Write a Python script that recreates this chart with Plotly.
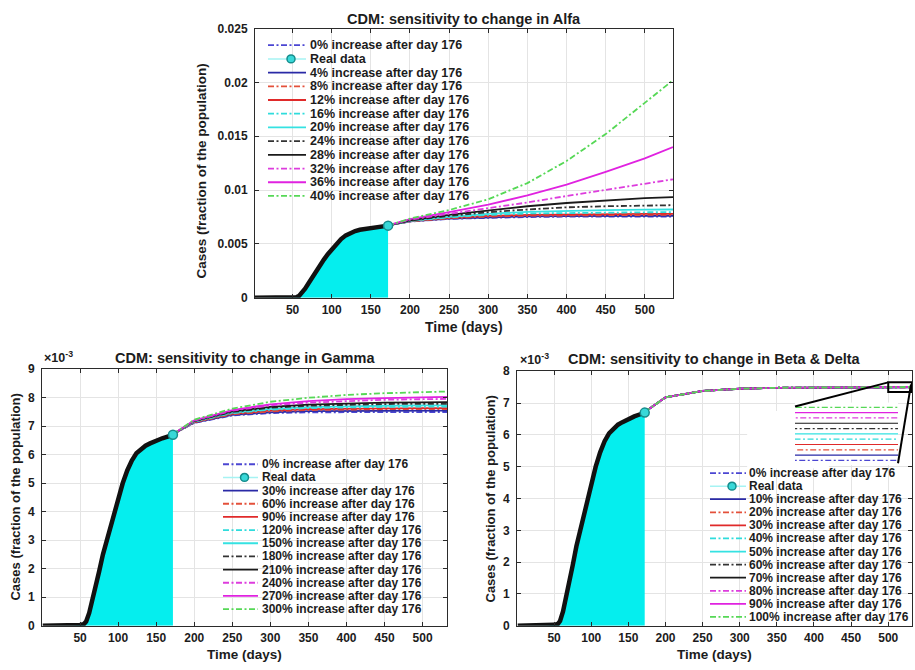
import plotly.graph_objects as go

W, H = 915, 670
FONT = "Liberation Sans, Arial, sans-serif"
INK = "#1c1c1c"

# ---------------------------------------------------------------- data
# Observed cumulative cases, fraction of the population (x 1e-3)
REAL_DAYS = [1, 10, 20, 30, 40, 50, 55, 58, 62, 66, 70, 75, 80, 85, 90, 95,
             100, 106, 112, 118, 124, 130, 136, 142, 150, 158, 165, 172]
REAL_CASES = [0, 0, 0, 0, 0.01, 0.03, 0.06, 0.15, 0.45, 0.85, 1.3, 1.9, 2.5,
              3.0, 3.55, 4.05, 4.5, 5.0, 5.45, 5.8, 6.05, 6.2, 6.32, 6.4,
              6.5, 6.58, 6.64, 6.7]

# Alfa scenarios (x 1e-3)
ALFA_PCT = [0, 4, 8, 12, 16, 20, 24, 28, 32, 36, 40]
ALFA_DAYS = [172, 200, 250, 300, 350, 400, 450, 500, 536]
ALFA_CASES = [
    [6.72, 7.08, 7.33, 7.45, 7.50, 7.53, 7.54, 7.55, 7.55],
    [6.72, 7.09, 7.35, 7.49, 7.56, 7.59, 7.61, 7.62, 7.62],
    [6.72, 7.10, 7.38, 7.54, 7.62, 7.66, 7.68, 7.69, 7.70],
    [6.72, 7.11, 7.42, 7.60, 7.70, 7.75, 7.78, 7.79, 7.80],
    [6.72, 7.13, 7.47, 7.70, 7.83, 7.89, 7.92, 7.94, 7.95],
    [6.72, 7.15, 7.52, 7.80, 7.98, 8.08, 8.14, 8.18, 8.20],
    [6.72, 7.17, 7.60, 7.95, 8.20, 8.40, 8.50, 8.57, 8.60],
    [6.72, 7.20, 7.70, 8.10, 8.50, 8.80, 9.05, 9.25, 9.35],
    [6.72, 7.25, 7.80, 8.30, 8.85, 9.45, 10.0, 10.6, 11.0],
    [6.72, 7.30, 7.95, 8.65, 9.50, 10.5, 11.7, 12.95, 14.0],
    [6.72, 7.35, 8.15, 9.15, 10.65, 12.7, 15.2, 18.1, 20.2],
]

# Gamma scenarios (x 1e-3)
GAMMA_PCT = [0, 30, 60, 90, 120, 150, 180, 210, 240, 270, 300]
GAMMA_DAYS = [172, 200, 250, 300, 350, 400, 450, 500, 532]
GAMMA_CASES = [
    [6.72, 7.12, 7.38, 7.46, 7.49, 7.50, 7.50, 7.50, 7.50],
    [6.72, 7.13, 7.40, 7.49, 7.53, 7.54, 7.55, 7.55, 7.55],
    [6.72, 7.14, 7.42, 7.52, 7.57, 7.59, 7.60, 7.60, 7.60],
    [6.72, 7.15, 7.44, 7.55, 7.60, 7.62, 7.63, 7.64, 7.64],
    [6.72, 7.16, 7.46, 7.58, 7.64, 7.67, 7.68, 7.69, 7.69],
    [6.72, 7.17, 7.48, 7.61, 7.67, 7.70, 7.72, 7.73, 7.73],
    [6.72, 7.18, 7.50, 7.65, 7.72, 7.76, 7.78, 7.79, 7.79],
    [6.72, 7.19, 7.52, 7.68, 7.76, 7.80, 7.83, 7.84, 7.85],
    [6.72, 7.20, 7.55, 7.73, 7.83, 7.89, 7.93, 7.95, 7.96],
    [6.72, 7.21, 7.57, 7.77, 7.88, 7.95, 7.99, 8.02, 8.03],
    [6.72, 7.23, 7.62, 7.86, 8.00, 8.10, 8.16, 8.20, 8.22],
]

# Beta & Delta scenarios (x 1e-3)
BD_PCT = [0, 10, 20, 30, 40, 50, 60, 70, 80, 90, 100]
BD_DAYS = [172, 200, 250, 300, 350, 400, 450, 500, 532]
BD_CASES = [
    [6.72, 7.18, 7.38, 7.45, 7.48, 7.49, 7.495, 7.495, 7.495],
    [6.72, 7.18, 7.38, 7.45, 7.48, 7.49, 7.496, 7.496, 7.496],
    [6.72, 7.18, 7.38, 7.45, 7.48, 7.49, 7.497, 7.497, 7.497],
    [6.72, 7.18, 7.38, 7.45, 7.48, 7.49, 7.498, 7.498, 7.498],
    [6.72, 7.18, 7.38, 7.45, 7.48, 7.49, 7.499, 7.499, 7.499],
    [6.72, 7.18, 7.38, 7.45, 7.48, 7.49, 7.500, 7.500, 7.500],
    [6.72, 7.18, 7.38, 7.45, 7.48, 7.49, 7.501, 7.501, 7.501],
    [6.72, 7.18, 7.38, 7.45, 7.48, 7.49, 7.502, 7.502, 7.502],
    [6.72, 7.18, 7.38, 7.45, 7.48, 7.49, 7.503, 7.503, 7.503],
    [6.72, 7.18, 7.38, 7.45, 7.48, 7.49, 7.504, 7.504, 7.504],
    [6.72, 7.18, 7.38, 7.45, 7.48, 7.49, 7.505, 7.505, 7.505],
]

X_TICKS = [50, 100, 150, 200, 250, 300, 350, 400, 450, 500]

# line style per scenario (MATLAB-like colour pairs, dash-dot / solid)
BLUE_DD, BLUE = "#4b46d2", "#2a2aa6"
RED_DD, RED = "#e4503a", "#e02a2a"
CYAN_DD, CYAN = "#2fdcdc", "#35e2e2"
BLACK_DD, BLACK = "#333333", "#1a1a1a"
MAG_DD, MAG = "#dd3cdd", "#e022e0"
GREEN_DD = "#56d856"
SERIES_COLORS = [BLUE_DD, BLUE, RED_DD, RED, CYAN_DD, CYAN,
                 BLACK_DD, BLACK, MAG_DD, MAG, GREEN_DD]
DASHDOT = "6px,2.5px,2px,2.5px"
SERIES_DASH = [DASHDOT, "solid"] * 5 + [DASHDOT]

REAL_FILL = "#05eeee"
REAL_LINE = "#a6f3f3"
REAL_MARK = "#38d8d8"
REAL_EDGE = "#168c8c"


def px(x):
    return x / W


def py(y):
    return 1 - y / H


# subplot boxes in pixels: (left, right, top, bottom)
TOP_BOX = (255, 673, 22, 297)
BL_BOX = (42, 447, 370, 632)
BR_BOX = (517, 912, 372, 632)
INSET_BOX = (795, 898, 404, 468)

TOP_XR = [2, 536]
BOT_XR = [0, 532]
INSET_XR = [500, 532]
INSET_YR = [7.4941, 7.5059]

fig = go.Figure()


def add_panel(xa, ya, days, cases, scale):
    fig.add_trace(go.Scatter(
        x=REAL_DAYS, y=[v * scale for v in REAL_CASES], mode="lines",
        fill="tozeroy", fillcolor=REAL_FILL, line=dict(width=0, color=REAL_FILL),
        xaxis=xa, yaxis=ya, showlegend=False, hoverinfo="skip"))
    fig.add_trace(go.Scatter(
        x=REAL_DAYS, y=[v * scale for v in REAL_CASES], mode="lines",
        line=dict(width=4.5, color="#111111"),
        xaxis=xa, yaxis=ya, showlegend=False))
    for vals, col, dash in zip(cases, SERIES_COLORS, SERIES_DASH):
        fig.add_trace(go.Scatter(
            x=days, y=[v * scale for v in vals], mode="lines",
            line=dict(width=1.8, color=col, dash=dash),
            xaxis=xa, yaxis=ya, showlegend=False))
    fig.add_trace(go.Scatter(
        x=REAL_DAYS[-1:], y=[v * scale for v in REAL_CASES[-1:]], mode="markers",
        marker=dict(size=9, color=REAL_MARK, line=dict(width=1.5, color=REAL_EDGE)),
        xaxis=xa, yaxis=ya, showlegend=False))


add_panel("x", "y", ALFA_DAYS, ALFA_CASES, 1e-3)
add_panel("x2", "y2", GAMMA_DAYS, GAMMA_CASES, 1)
add_panel("x3", "y3", BD_DAYS, BD_CASES, 1)

# magnified view of the Beta & Delta plateau
for vals, col, dash in zip(BD_CASES, SERIES_COLORS, SERIES_DASH):
    fig.add_trace(go.Scatter(
        x=BD_DAYS, y=vals, mode="lines",
        line=dict(width=1.2, color=col, dash=dash),
        xaxis="x4", yaxis="y4", showlegend=False))

tickfont = dict(family=FONT, size=12, color=INK, weight="bold")
common = dict(showline=True, linecolor="#2b2b2b", linewidth=1, mirror="ticks",
              ticks="inside", ticklen=4, tickcolor="#2b2b2b", showgrid=True,
              gridcolor="#e4e4e4", gridwidth=1, zeroline=False,
              tickfont=tickfont, fixedrange=True)
xcommon = dict(common, ticklabelstandoff=1)
ycommon = dict(common, ticklabelstandoff=4)


def dom_x(b):
    return [px(b[0]), px(b[1])]


def dom_y(b):
    return [py(b[3]), py(b[2])]


fig.update_layout(
    width=W, height=H, margin=dict(l=0, r=0, t=0, b=0),
    paper_bgcolor="white", plot_bgcolor="white", showlegend=False,
    xaxis=dict(domain=dom_x(TOP_BOX), range=TOP_XR, tickvals=X_TICKS, anchor="y", **xcommon),
    yaxis=dict(domain=dom_y(TOP_BOX), range=[0, 0.025], dtick=0.005, tick0=0, anchor="x", **ycommon),
    xaxis2=dict(domain=dom_x(BL_BOX), range=BOT_XR, tickvals=X_TICKS, anchor="y2", **xcommon),
    yaxis2=dict(domain=dom_y(BL_BOX), range=[0, 9], dtick=1, tick0=0, anchor="x2", **ycommon),
    xaxis3=dict(domain=dom_x(BR_BOX), range=BOT_XR, tickvals=X_TICKS, anchor="y3", **xcommon),
    yaxis3=dict(domain=dom_y(BR_BOX), range=[0, 8], dtick=1, tick0=0, anchor="x3", **ycommon),
    xaxis4=dict(domain=dom_x(INSET_BOX), range=INSET_XR, anchor="y4", visible=False, fixedrange=True),
    yaxis4=dict(domain=dom_y(INSET_BOX), range=INSET_YR, anchor="x4", visible=False, fixedrange=True),
)

shapes = []
ann = []


def text(x, y, s, size=11.5, angle=0, xanchor="center", yanchor="middle"):
    ann.append(dict(x=px(x), y=py(y), xref="paper", yref="paper", text=s,
                    showarrow=False, textangle=angle, xanchor=xanchor, yanchor=yanchor,
                    borderpad=0,
                    font=dict(family=FONT, size=size, color=INK, weight="bold")))


# titles and axis labels
text(464, 12, "CDM: sensitivity to change in Alfa", 14.5)
text(464, 327, "Time (days)", 14)
text(201, 168, "Cases (fraction of the population)", 13.5, -90)

text(244.5, 359, "CDM: sensitivity to change in Gamma", 14.5)
text(244.5, 661, "Time (days)", 13.5)
text(16, 501, "Cases (fraction of the population)", 13, -90)
text(43, 357, "×10<sup>-3</sup>", 12.5, xanchor="left")

text(714.5, 360, "CDM: sensitivity to change in Beta & Delta", 14.5)
text(714.5, 661, "Time (days)", 13.5)
text(491, 502, "Cases (fraction of the population)", 13, -90)
text(519, 360, "×10<sup>-3</sup>", 12.5, xanchor="left")


def legend(pcts, x0, x1, xt, y0, dy, size):
    labels = [f"{pcts[0]}% increase after day 176", "Real data"] + \
             [f"{p}% increase after day 176" for p in pcts[1:]]
    styles = [(SERIES_COLORS[0], SERIES_DASH[0]), None] + \
             list(zip(SERIES_COLORS[1:], SERIES_DASH[1:]))
    for i, (lab, st) in enumerate(zip(labels, styles)):
        y = y0 + i * dy
        if st is None:
            shapes.append(dict(type="line", xref="paper", yref="paper",
                               x0=px(x0), x1=px(x1), y0=py(y), y1=py(y),
                               line=dict(color=REAL_LINE, width=1.5)))
            cx = (x0 + x1) / 2 + 4
            shapes.append(dict(type="circle", xref="paper", yref="paper",
                               x0=px(cx - 4), x1=px(cx + 4), y0=py(y + 4), y1=py(y - 4),
                               fillcolor=REAL_MARK, line=dict(color=REAL_EDGE, width=1.5)))
        else:
            shapes.append(dict(type="line", xref="paper", yref="paper",
                               x0=px(x0), x1=px(x1), y0=py(y), y1=py(y),
                               line=dict(color=st[0], width=1.8, dash=st[1])))
        text(xt, y, lab, size, xanchor="left")


legend(ALFA_PCT, 268, 306, 309, 39, 14.0, 12.5)
legend(GAMMA_PCT, 223, 258, 261, 467, 13.45, 12)
legend(BD_PCT, 710, 746, 748, 476, 13.36, 12)


# zoom indicator on the Beta & Delta panel
def br_to_px(day, val):
    l, r, t, b = BR_BOX
    return (l + (day - BOT_XR[0]) / (BOT_XR[1] - BOT_XR[0]) * (r - l),
            b - val / 8 * (b - t))


SRC_Y = [7.35, 7.65]
shapes.append(dict(type="rect", xref="x3", yref="y3", layer="between",
                   x0=INSET_XR[0] - 190, x1=INSET_XR[0] - 80, y0=4.95, y1=6.75,
                   fillcolor="white", line=dict(width=0)))
shapes.append(dict(type="rect", xref="x3", yref="y3",
                   x0=INSET_XR[0], x1=INSET_XR[1], y0=SRC_Y[0], y1=SRC_Y[1],
                   line=dict(color="black", width=2)))
bx0, by1 = br_to_px(INSET_XR[0], SRC_Y[1])
bx1, _ = br_to_px(INSET_XR[1], SRC_Y[1])
il, ir, it, ib = INSET_BOX
shapes.append(dict(type="line", xref="paper", yref="paper",
                   x0=px(il), y0=py(it + 4), x1=px(bx0), y1=py(by1),
                   line=dict(color="black", width=2)))
shapes.append(dict(type="line", xref="paper", yref="paper",
                   x0=px(ir), y0=py(ib - 2), x1=px(bx1 - 1), y1=py(by1 + 2),
                   line=dict(color="black", width=2)))

fig.update_layout(shapes=shapes, annotations=ann)
fig.write_html("out.html")
